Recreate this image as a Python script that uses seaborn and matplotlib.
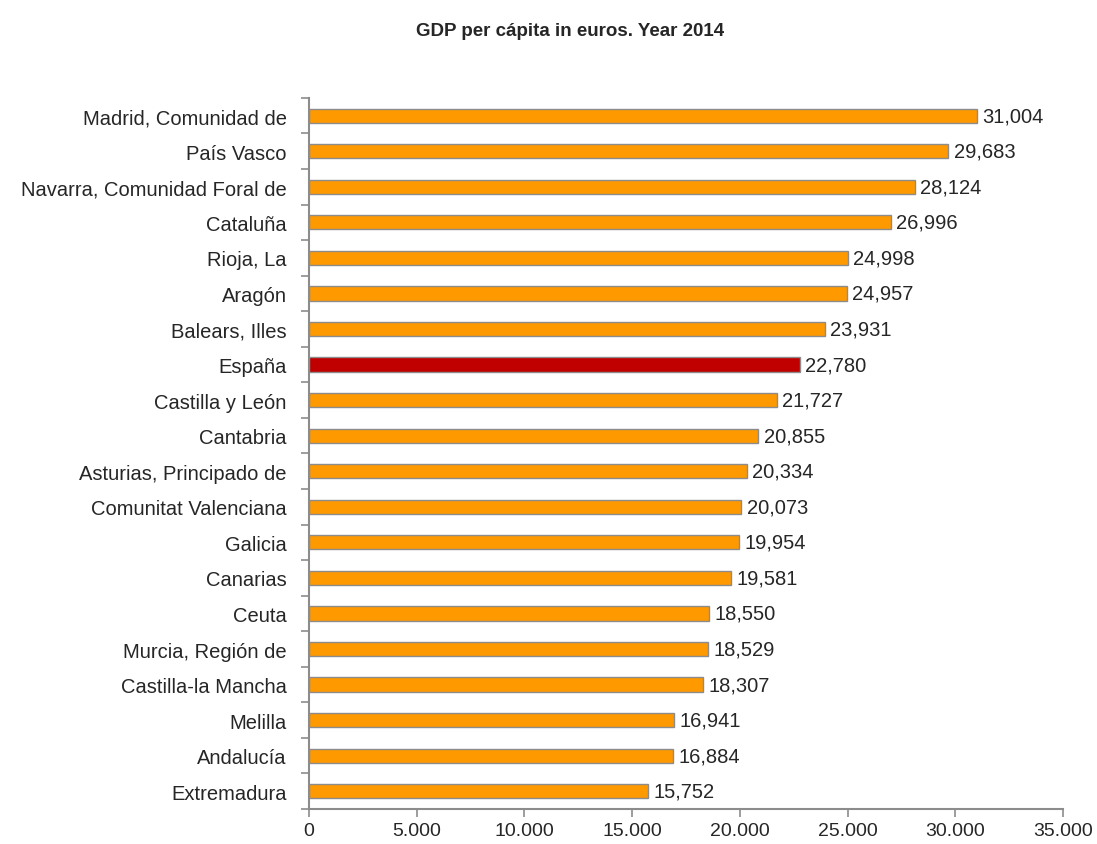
import matplotlib
matplotlib.use("Agg")
import matplotlib.pyplot as plt
import seaborn as sns
import pandas as pd

regions = ["Madrid, Comunidad de", "País Vasco", "Navarra, Comunidad Foral de", "Cataluña",
           "Rioja, La", "Aragón", "Balears, Illes", "España", "Castilla y León", "Cantabria",
           "Asturias, Principado de", "Comunitat Valenciana", "Galicia", "Canarias", "Ceuta",
           "Murcia, Región de", "Castilla-la Mancha", "Melilla", "Andalucía", "Extremadura"]
gdp = [31004, 29683, 28124, 26996, 24998, 24957, 23931, 22780, 21727, 20855,
       20334, 20073, 19954, 19581, 18550, 18529, 18307, 16941, 16884, 15752]
xticks = [0, 5000, 10000, 15000, 20000, 25000, 30000, 35000]

df = pd.DataFrame({"region": regions, "gdp": gdp})
palette = ["#C00000" if r == "España" else "#FF9900" for r in regions]

sns.set_style("white")
plt.rcParams["font.family"] = ["Liberation Sans", "DejaVu Sans"]

fig = plt.figure(figsize=(10.97, 8.45), dpi=100)
ax = fig.add_axes([0.2817, 0.0414, 0.969 - 0.2817, 0.883 - 0.0414])

sns.barplot(data=df, y="region", x="gdp", hue="region", palette=palette, legend=False,
            orient="h", width=0.4, saturation=1, edgecolor="#8c8c8c", linewidth=1.0, ax=ax)

ax.set_xlim(0, 35000)
ax.set_ylim(len(regions) - 0.5, -0.5)
ax.set_xticks(xticks)
ax.set_xticklabels([f"{v:,}".replace(",", ".") for v in xticks], fontsize=14)
ax.set_yticks([i - 0.5 for i in range(len(regions) + 1)], minor=False)
ax.set_yticklabels([])
ax.set_yticks(range(len(regions)), minor=True)
ax.set_yticklabels(regions, minor=True, fontsize=14.5)
ax.tick_params(axis="y", which="major", length=6, width=1.2, color="#8c8c8c", direction="out", left=True)
ax.tick_params(axis="y", which="minor", length=0, pad=16)
ax.tick_params(axis="x", length=6, width=1.2, color="#8c8c8c", direction="out", bottom=True, pad=3)
ax.set_xlabel("")
ax.set_ylabel("")

for s in ["top", "right"]:
    ax.spines[s].set_visible(False)
for s in ["left", "bottom"]:
    ax.spines[s].set_color("#8c8c8c")
    ax.spines[s].set_linewidth(1.5)

for i, v in enumerate(gdp):
    ax.text(v + 250, i, f"{v:,}", va="center", ha="left", fontsize=14.5)

fig.text(0.52, 0.963, "GDP per cápita in euros. Year 2014", ha="center", va="center",
         fontsize=13.5, fontweight="bold")

fig.savefig("out.png", dpi=100)
